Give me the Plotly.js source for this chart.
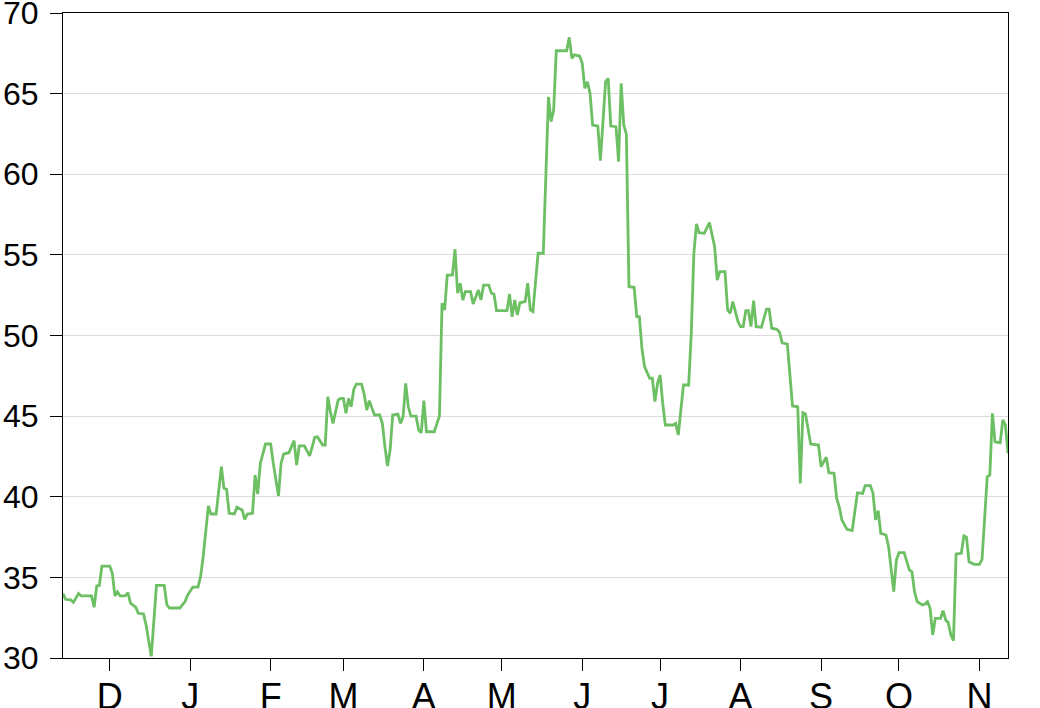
<!DOCTYPE html>
<html>
<head>
<meta charset="utf-8">
<script src="https://cdn.plot.ly/plotly-3.0.1.min.js"></script>
<style>html,body{margin:0;padding:0;background:#fff;}#chart{width:1040px;height:708px;}</style>
</head>
<body>
<div id="chart"></div>
<script>
const dates = [
"2014-11-13","2014-11-14","2014-11-16","2014-11-17","2014-11-19","2014-11-20","2014-11-24","2014-11-25","2014-11-26","2014-11-27",
"2014-11-28","2014-12-01","2014-12-02","2014-12-03","2014-12-04","2014-12-05","2014-12-07","2014-12-08","2014-12-09","2014-12-11",
"2014-12-12","2014-12-14","2014-12-15","2014-12-16","2014-12-17","2014-12-19","2014-12-22","2014-12-23","2014-12-24","2014-12-28",
"2014-12-30","2014-12-31","2015-01-02","2015-01-04","2015-01-05","2015-01-06","2015-01-08","2015-01-09","2015-01-11","2015-01-13",
"2015-01-14","2015-01-15","2015-01-16","2015-01-18","2015-01-19","2015-01-21","2015-01-22","2015-01-23","2015-01-25","2015-01-26",
"2015-01-27","2015-01-28","2015-01-30","2015-02-01","2015-02-02","2015-02-04","2015-02-05","2015-02-06","2015-02-08","2015-02-10",
"2015-02-11","2015-02-12","2015-02-14","2015-02-16","2015-02-18","2015-02-19","2015-02-21","2015-02-22","2015-02-23","2015-02-24",
"2015-02-25","2015-02-27","2015-02-28","2015-03-01","2015-03-02","2015-03-03","2015-03-04","2015-03-05","2015-03-06","2015-03-08",
"2015-03-09","2015-03-10","2015-03-11","2015-03-12","2015-03-13","2015-03-15","2015-03-16","2015-03-17","2015-03-18","2015-03-19",
"2015-03-20","2015-03-22","2015-03-23","2015-03-24","2015-03-25","2015-03-26","2015-03-27","2015-03-29","2015-03-30","2015-03-31",
"2015-04-01","2015-04-02","2015-04-05","2015-04-07","2015-04-08","2015-04-09","2015-04-10","2015-04-12","2015-04-13","2015-04-14",
"2015-04-15","2015-04-16","2015-04-17","2015-04-19","2015-04-20","2015-04-22","2015-04-23","2015-04-24","2015-04-26","2015-04-27",
"2015-04-28","2015-04-29","2015-05-03","2015-05-04","2015-05-05","2015-05-06","2015-05-07","2015-05-08","2015-05-10","2015-05-11",
"2015-05-12","2015-05-13","2015-05-15","2015-05-17","2015-05-19","2015-05-20","2015-05-21","2015-05-22","2015-05-26","2015-05-27",
"2015-05-28","2015-05-29","2015-05-31","2015-06-01","2015-06-02","2015-06-03","2015-06-04","2015-06-05","2015-06-07","2015-06-08",
"2015-06-10","2015-06-11","2015-06-12","2015-06-14","2015-06-15","2015-06-16","2015-06-17","2015-06-18","2015-06-19","2015-06-21",
"2015-06-22","2015-06-23","2015-06-24","2015-06-25","2015-06-27","2015-06-28","2015-06-29","2015-06-30","2015-07-01","2015-07-02",
"2015-07-03","2015-07-06","2015-07-07","2015-07-08","2015-07-10","2015-07-12","2015-07-13","2015-07-14","2015-07-15","2015-07-16",
"2015-07-18","2015-07-20","2015-07-22","2015-07-23","2015-07-24","2015-07-26","2015-07-27","2015-07-28","2015-07-29","2015-07-31",
"2015-08-01","2015-08-02","2015-08-03","2015-08-04","2015-08-05","2015-08-06","2015-08-07","2015-08-09","2015-08-10","2015-08-11",
"2015-08-12","2015-08-13","2015-08-15","2015-08-16","2015-08-17","2015-08-19","2015-08-21","2015-08-23","2015-08-24","2015-08-25",
"2015-08-26","2015-08-28","2015-08-31","2015-09-01","2015-09-02","2015-09-03","2015-09-04","2015-09-06","2015-09-07","2015-09-08",
"2015-09-09","2015-09-11","2015-09-13","2015-09-14","2015-09-15","2015-09-17","2015-09-18","2015-09-20","2015-09-21","2015-09-22",
"2015-09-23","2015-09-24","2015-09-26","2015-09-27","2015-09-29","2015-09-30","2015-10-01","2015-10-03","2015-10-05","2015-10-06",
"2015-10-07","2015-10-08","2015-10-10","2015-10-11","2015-10-12","2015-10-13","2015-10-14","2015-10-15","2015-10-17","2015-10-18",
"2015-10-19","2015-10-20","2015-10-21","2015-10-22","2015-10-23","2015-10-25","2015-10-26","2015-10-27","2015-10-28","2015-10-30",
"2015-11-01","2015-11-02","2015-11-03","2015-11-04","2015-11-05","2015-11-06","2015-11-07","2015-11-09","2015-11-10","2015-11-11",
"2015-11-12"
];
const values = [
34.0,33.64,33.6,33.45,34.0,33.85,33.85,33.15,34.47,34.5,
35.7,35.7,35.25,33.85,34.1,33.85,33.85,34.05,33.4,33.15,
32.77,32.73,32.05,31.1,30.1,34.5,34.5,33.3,33.1,33.1,
33.5,33.9,34.4,34.4,35.05,36.3,39.43,38.93,38.93,41.86,
40.52,40.46,38.97,38.93,39.35,39.18,38.6,38.93,38.97,41.35,
40.17,42.07,43.27,43.27,42.07,40.05,42.07,42.65,42.73,43.48,
41.97,43.15,43.15,42.53,43.69,43.72,43.21,43.21,46.2,45.27,
44.55,46.0,46.1,46.1,45.17,46.1,45.58,46.66,46.99,46.99,
46.37,45.38,45.96,45.49,45.07,45.07,44.55,43.1,41.91,42.9,
45.07,45.13,44.55,44.97,47.03,45.58,45.0,45.0,44.14,43.97,
45.96,44.03,44.03,45.0,52.0,51.58,53.75,53.75,55.35,52.62,
53.24,52.2,52.72,52.72,51.95,52.82,52.2,53.13,53.13,52.62,
52.57,51.54,51.54,52.57,51.16,52.2,51.27,52.03,52.1,53.24,
51.58,51.48,55.1,55.1,64.8,63.26,63.98,67.66,67.66,68.49,
67.19,67.4,67.33,66.88,65.33,65.74,65.02,63.05,62.99,60.84,
65.74,65.95,62.99,62.95,60.78,65.64,63.05,62.49,53.03,52.99,
51.17,51.17,49.2,48.07,47.35,47.35,45.9,47.04,47.55,45.8,
44.45,44.45,44.55,43.83,46.93,46.93,50.14,55.1,56.92,56.38,
56.34,57.0,55.51,53.44,53.96,53.96,51.58,51.38,52.1,50.86,
50.55,50.55,51.54,51.54,50.55,52.16,50.55,50.51,51.0,51.63,
51.63,50.45,50.38,50.2,49.55,49.47,45.63,45.58,40.83,45.21,
45.13,43.27,43.21,41.86,42.17,42.45,41.49,41.45,39.9,39.38,
38.56,37.98,37.9,38.97,40.25,40.21,40.69,40.69,40.21,38.56,
39.14,37.73,37.63,36.9,34.11,36.08,36.53,36.53,35.46,35.35,
34.11,33.49,33.29,33.35,33.49,33.08,31.43,32.46,32.46,32.93,
32.36,32.19,31.43,31.07,36.45,36.49,37.57,37.49,35.97,35.81,
35.81,36.12,38.56,41.24,41.35,45.17,43.41,43.35,44.76,44.45,
42.69
];
const monthTicks = ["2014-12-01","2015-01-01","2015-02-01","2015-03-01","2015-04-01","2015-05-01","2015-06-01","2015-07-01","2015-08-01","2015-09-01","2015-10-01","2015-11-01"];
const monthLabels = ["D","J","F","M","A","M","J","J","A","S","O","N"];
const xRange = ["2014-11-13","2015-11-12"];
const yRange = [30,70];

const trace = {
  x: dates, y: values, type: "scatter", mode: "lines",
  line: {color: "#6dbf63", width: 2.8}, hoverinfo: "skip"
};
const layout = {
  width: 1040, height: 708,
  margin: {l: 63, r: 32, t: 13, b: 50, pad: 0},
  paper_bgcolor: "#fff", plot_bgcolor: "#fff",
  showlegend: false,
  font: {family: "Liberation Sans, Arial, sans-serif", color: "#000", size: 32},
  xaxis: {
    type: "date", range: xRange, tickmode: "array", tickvals: monthTicks, ticktext: monthLabels,
    ticks: "outside", ticklen: 12, tickwidth: 1, tickcolor: "#000",
    showline: true, linecolor: "#000", linewidth: 1, mirror: true,
    showgrid: false, zeroline: false, tickfont: {size: 36, color: "#000"},
    ticklabeloverflow: "allow", ticklabelstandoff: -5
  },
  yaxis: {
    range: yRange, tickmode: "linear", tick0: 30, dtick: 5,
    ticks: "outside", ticklen: 12, tickwidth: 1, tickcolor: "#000",
    showline: true, linecolor: "#000", linewidth: 1, mirror: true,
    showgrid: true, gridcolor: "#dcdcdc", gridwidth: 1, zeroline: false,
    tickfont: {size: 32, color: "#000"},
    ticklabeloverflow: "allow", ticklabelstandoff: 5
  }
};
Plotly.newPlot("chart", [trace], layout, {staticPlot: true, displayModeBar: false});
</script>
</body>
</html>
